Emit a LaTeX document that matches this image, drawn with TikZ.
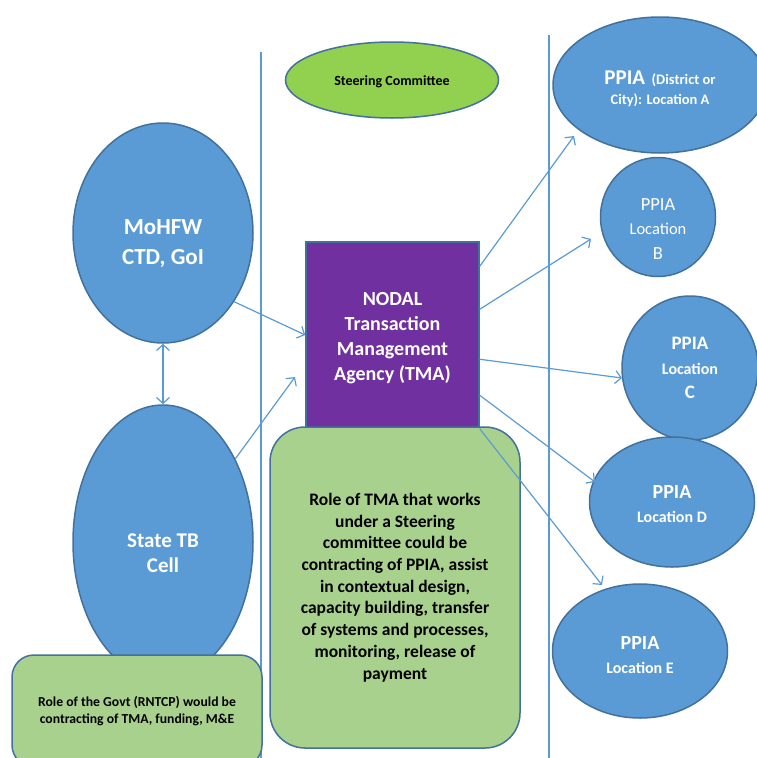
\documentclass[tikz,border=0pt]{standalone}
\usepackage{fontspec}
\setmainfont{Carlito}
\usetikzlibrary{shapes.geometric,arrows.meta,calc}
\definecolor{bluefill}{HTML}{5B9BD5}
\definecolor{blueedge}{HTML}{41719C}
\definecolor{tmapurple}{HTML}{7030A0}
\definecolor{lightgreen}{HTML}{A9D18E}
\definecolor{brightgreen}{HTML}{92D050}
\begin{document}
\begin{tikzpicture}[x=1pt,y=-1pt,
  blob/.style={ellipse, draw=blueedge, fill=bluefill, line width=1.5pt, inner sep=0pt},
  lbl/.style={inner sep=0pt, align=center, text=white},
  greenbox/.style={draw=blueedge, fill=lightgreen, line width=1.5pt, inner sep=0pt, align=center, font=\bfseries},
  conn/.style={draw=bluefill, line width=1.2pt, -{Straight Barb[length=6pt,width=13pt]}},
  divider/.style={draw=bluefill, line width=1.2pt}]
\useasboundingbox (0,0) rectangle (757,758);

% dividers
\coordinate (d1t) at (261,52); \coordinate (d1b) at (261,760);
\coordinate (d2t) at (549,35); \coordinate (d2b) at (549,760);
\draw[divider] (d1t) -- (d1b);
\draw[divider] (d2t) -- (d2b);

% left column
\node[blob, minimum width=180, minimum height=220] (mohfw) at (163,233) {};
\node[lbl, font=\bfseries\fontsize{23}{30}\selectfont] (mohfwtext) at ($(mohfw)+(0,10.5)$) {MoHFW\\CTD, GoI};
\node[blob, minimum width=180, minimum height=274] (state) at (163,542) {};
\node[lbl, font=\bfseries\fontsize{21}{25}\selectfont] (statetext) at ($(state)+(0,11)$) {State TB\\Cell};
\node[greenbox, rounded corners=22, minimum width=250, minimum height=112, font=\bfseries\fontsize{13.7}{17}\selectfont] (govt) at (137,711) {Role of the Govt (RNTCP) would be\\contracting of TMA, funding, M\&E};

% middle column
\node[ellipse, draw=blueedge, fill=brightgreen, line width=1.5pt, inner sep=0pt, minimum width=213, minimum height=76, font=\bfseries\fontsize{14}{17}\selectfont] (steer) at (392,80) {};
\node[lbl, text=black, font=\bfseries\fontsize{14}{17}\selectfont] (steertext) at ($(steer)+(0,2)$) {Steering Committee};
\node[draw=blueedge, fill=tmapurple, line width=1.5pt, minimum width=173, minimum height=186] (tma) at (392.5,335) {};
\node[lbl, font=\bfseries\fontsize{20}{25}\selectfont] (tmatext) at ($(tma)+(0,3)$) {NODAL\\Transaction\\Management\\Agency (TMA)};
\node[greenbox, rounded corners=35, minimum width=250, minimum height=321, font=\bfseries\fontsize{17.5}{21.7}\selectfont] (role) at (395,587.5) {Role of TMA that works\\under a Steering\\committee could be\\contracting of PPIA, assist\\in contextual design,\\capacity building, transfer\\of systems and processes,\\monitoring, release of\\payment};

% right column
\node[blob, minimum width=214, minimum height=136] (ppiaA) at (660,85) {};
\node[lbl, font=\bfseries\fontsize{14.5}{20}\selectfont] (ppiaAtext) at ($(ppiaA)+(0,4)$) {{\fontsize{21}{20}\selectfont PPIA}\ \ (District or\\City): Location A};
\node[blob, minimum width=115, minimum height=119] (ppiaB) at (658,217) {};
\node[lbl, font=\fontsize{18.5}{24.5}\selectfont] (ppiaBtext) at ($(ppiaB)+(0,12)$) {PPIA\\{\fontsize{16.5}{24.5}\selectfont Location}\\B};
\node[blob, minimum width=136, minimum height=144] (ppiaC) at (690,368) {};
\node[lbl, font=\bfseries\fontsize{19}{24.5}\selectfont] (ppiaCtext) at (ppiaC) {PPIA\\{\fontsize{16}{24.5}\selectfont Location}\\C};
\node[blob, minimum width=165, minimum height=130] (ppiaD) at (672,502) {};
\node[lbl, font=\bfseries\fontsize{20}{24}\selectfont] (ppiaDtext) at ($(ppiaD)+(0,2.5)$) {PPIA\\{\fontsize{16}{24}\selectfont Location D}};
\node[blob, minimum width=175, minimum height=134] (ppiaE) at (640,651) {};
\node[lbl, font=\bfseries\fontsize{20}{24}\selectfont] (ppiaEtext) at ($(ppiaE)+(0,4)$) {PPIA\\{\fontsize{16}{24}\selectfont Location E}};

% arrow end points
\coordinate (tipS) at (295,377);
\coordinate (tipA) at (574,136);
\coordinate (tipB) at (591,239);
\coordinate (tipC) at (622,378);
\coordinate (tipD) at (595,482);
\coordinate (tipE) at (602,585);

% connectors
\draw[draw=bluefill, line width=1.2pt, {Straight Barb[length=6pt,width=13pt]}-{Straight Barb[length=6pt,width=13pt]}] (mohfw.south) -- (state.north);
\draw[conn] (mohfw.-44) -- (tma.west);
\draw[conn] (state.49) -- (tipS);
\draw[conn] ($(tma.north east)+(0,25)$) -- (tipA);
\draw[conn] ($(tma.north east)+(0,68)$) -- (tipB);
\draw[conn] ($(tma.north east)+(0,118)$) -- (tipC);
\draw[conn] ($(tma.north east)+(0,154)$) -- (tipD);
\draw[conn] (tma.south east) -- (tipE);
\end{tikzpicture}
\end{document}
